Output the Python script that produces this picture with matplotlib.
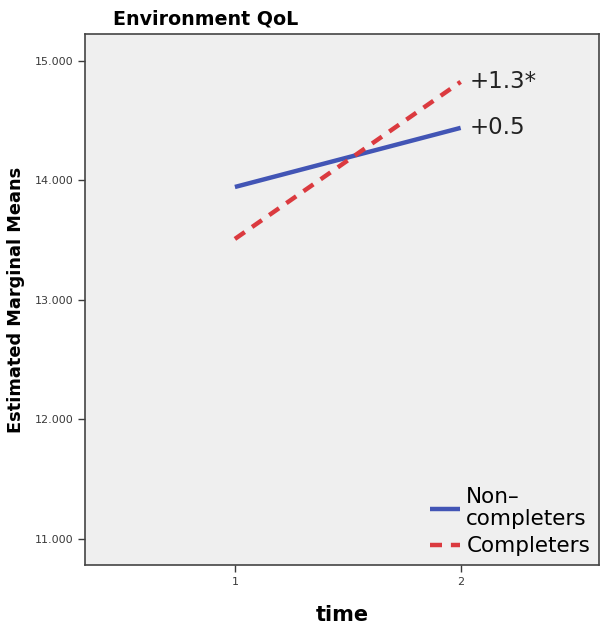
import matplotlib
matplotlib.use("Agg")
import matplotlib.pyplot as plt

time_points = [1, 2]
non_completers = [13.945, 14.44]
completers = [13.51, 14.825]
series_labels = ["Non–\ncompleters", "Completers"]
change_labels = ["+0.5", "+1.3*"]
y_ticks = [11.0, 12.0, 13.0, 14.0, 15.0]

fig = plt.figure(figsize=(6.0, 6.28), dpi=100)
ax = fig.add_axes([0.1417, 0.1003, 0.8563, 0.8456])
ax.set_facecolor("#efefef")

blue = "#4255b5"
red = "#db3a3f"
l1, = ax.plot(time_points, non_completers, color=blue, lw=3.2, solid_capstyle="butt",
              label=series_labels[0])
l2, = ax.plot(time_points, completers, color=red, lw=3.2, dashes=(2.7, 2.0),
              label=series_labels[1])

ax.text(2.04, non_completers[1], change_labels[0], fontsize=16.5, va="center", ha="left",
        color="#222222")
ax.text(2.04, completers[1], change_labels[1], fontsize=16.5, va="center", ha="left",
        color="#222222")

ax.set_xlim(0.336, 2.612)
ax.set_ylim(10.78, 15.226)
ax.set_xticks(time_points)
ax.set_xticklabels([str(t) for t in time_points])
ax.set_yticks(y_ticks)
ax.set_yticklabels([f"{v:.3f}" for v in y_ticks])
ax.tick_params(axis="both", labelsize=8, colors="#3a3a3a", length=5, width=1)

for s in ax.spines.values():
    s.set_color("#444444")
    s.set_linewidth(1.2)

ax.set_title("Environment QoL", fontsize=13.7, fontweight="bold", loc="left",
             x=0.055, pad=7)
ax.set_xlabel("time", fontsize=15, fontweight="bold", labelpad=13)
ax.set_ylabel("Estimated Marginal Means", fontsize=12.8, fontweight="bold")
ax.yaxis.set_label_coords(-0.117, 0.5)

leg = ax.legend(handles=[l1, l2], loc="lower right", frameon=False, fontsize=15.5,
                handlelength=1.4, handletextpad=0.28, labelspacing=0.35,
                borderaxespad=0.0)
for t in leg.get_texts():
    t.set_linespacing(1.1)

fig.savefig("out.png", dpi=100)
